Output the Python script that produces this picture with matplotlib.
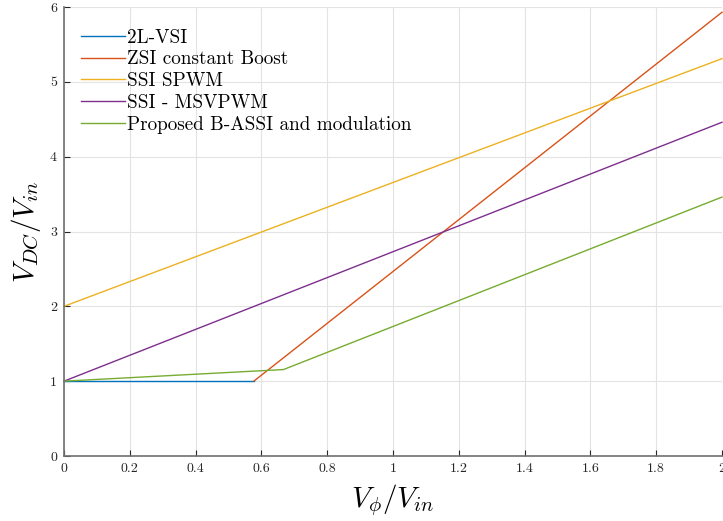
import matplotlib
matplotlib.use("Agg")
import matplotlib.pyplot as plt
from matplotlib.ticker import FuncFormatter

plt.rcParams['font.family'] = ['cmr10', 'DejaVu Serif']
plt.rcParams['mathtext.fontset'] = 'cm'
plt.rcParams['axes.formatter.use_mathtext'] = True

# Data
vsi_x = [0, 0.577]
vsi_y = [1, 1]
zsi_x = [0.577, 2]
zsi_y = [1, 5.93]
spwm_x = [0, 2]
spwm_y = [2, 5.31]
msv_x = [0, 2]
msv_y = [1, 4.46]
prop_x = [0, 0.667, 2]
prop_y = [1, 1.155, 3.46]

labels = ["2L-VSI", "ZSI constant Boost", "SSI SPWM", "SSI - MSVPWM",
          "Proposed B-ASSI and modulation"]
colors = ["#0072BD", "#D95319", "#EDB120", "#7E2F8E", "#77AC30"]

xticks = [0, 0.2, 0.4, 0.6, 0.8, 1, 1.2, 1.4, 1.6, 1.8, 2]
yticks = [0, 1, 2, 3, 4, 5, 6]

fig = plt.figure(figsize=(7.23, 5.21), dpi=100)
ax = fig.add_axes([64/723, (521-456)/521, (722-64)/723, (456-7)/521])

series = [(vsi_x, vsi_y), (zsi_x, zsi_y), (spwm_x, spwm_y), (msv_x, msv_y), (prop_x, prop_y)]
for (x, y), lab, c in zip(series, labels, colors):
    ax.plot(x, y, color=c, lw=1.0, label=lab, clip_on=False)

ax.set_xlim(0, 2)
ax.set_ylim(0, 6)
ax.set_xticks(xticks)
ax.set_yticks(yticks)
ax.xaxis.set_major_formatter(FuncFormatter(lambda v, p: f"{v:g}"))
ax.yaxis.set_major_formatter(FuncFormatter(lambda v, p: f"{v:g}"))
ax.tick_params(direction='in', length=4, width=0.8, labelsize=10, colors='#262626',
               labelcolor='#262626', pad=5)
ax.grid(True, color='#e3e3e3', lw=0.8)
ax.set_axisbelow(True)
for s in ['top', 'right']:
    ax.spines[s].set_visible(False)
for s in ['left', 'bottom']:
    ax.spines[s].set_color('#707070')
    ax.spines[s].set_linewidth(1.2)

ax.set_xlabel(r"$V_{\phi}/V_{in}$", fontsize=21, labelpad=5)
ax.set_ylabel(r"$V_{DC}/V_{in}$", fontsize=21, labelpad=5)

leg = ax.legend(loc='upper left', frameon=False, fontsize=13.8, handlelength=2.3,
                handletextpad=0.1, labelspacing=0.2, borderaxespad=0.5,
                bbox_to_anchor=(0.0, 0.99))

fig.savefig("out.png", dpi=100)
